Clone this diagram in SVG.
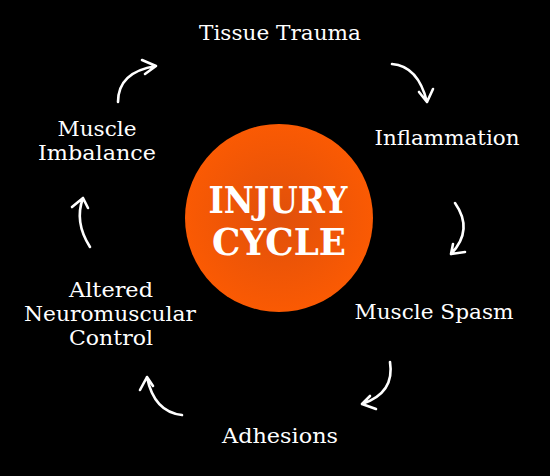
<svg xmlns="http://www.w3.org/2000/svg" width="550" height="476" viewBox="0 0 550 476">
  <defs>
    <radialGradient id="orb" cx="50%" cy="50%" r="50%">
      <stop offset="0" stop-color="#E0500B"/>
      <stop offset="1" stop-color="#FA5A03"/>
    </radialGradient>
    <style>
      .lbl { font-family: "DejaVu Serif", "Liberation Serif", serif; font-size: 20.5px; fill: #FFFFFF; text-anchor: middle; }
      .ttl { font-family: "DejaVu Serif", "Liberation Serif", serif; font-weight: bold; font-size: 37px; fill: #FFFFFF; text-anchor: middle; }
      .arr { fill: none; stroke: #FFFFFF; stroke-width: 2.6; stroke-linecap: round; stroke-linejoin: round; }
    </style>
  </defs>
  <rect x="0" y="0" width="550" height="476" fill="#000000"/>

  <g id="center">
    <circle cx="279" cy="218" r="94" fill="url(#orb)"/>
    <text class="ttl" x="278" y="213" textLength="139" lengthAdjust="spacingAndGlyphs">INJURY</text>
    <text class="ttl" x="279" y="255" textLength="134" lengthAdjust="spacingAndGlyphs">CYCLE</text>
  </g>

  <g id="tissue-trauma"><text class="lbl" x="280" y="40" textLength="162" lengthAdjust="spacingAndGlyphs">Tissue Trauma</text></g>
  <g id="inflammation"><text class="lbl" x="447" y="145" textLength="145" lengthAdjust="spacingAndGlyphs">Inflammation</text></g>
  <g id="muscle-spasm"><text class="lbl" x="434" y="319" textLength="159" lengthAdjust="spacingAndGlyphs">Muscle Spasm</text></g>
  <g id="adhesions"><text class="lbl" x="280" y="443" textLength="116" lengthAdjust="spacingAndGlyphs">Adhesions</text></g>
  <g id="altered-neuromuscular-control">
    <text class="lbl" x="111" y="297" textLength="84" lengthAdjust="spacingAndGlyphs">Altered</text>
    <text class="lbl" x="110" y="321" textLength="172" lengthAdjust="spacingAndGlyphs">Neuromuscular</text>
    <text class="lbl" x="111" y="345" textLength="84" lengthAdjust="spacingAndGlyphs">Control</text>
  </g>
  <g id="muscle-imbalance">
    <text class="lbl" x="97" y="136" textLength="79" lengthAdjust="spacingAndGlyphs">Muscle</text>
    <text class="lbl" x="97" y="160" textLength="118" lengthAdjust="spacingAndGlyphs">Imbalance</text>
  </g>

  <g id="connectors">
    <path class="arr" d="M392,64 Q418,66 427,102 M419,92 L427,102 L433,89"/>
    <path class="arr" d="M455,203 Q474,230 451,254 M453,244 L451,254 L465,252"/>
    <path class="arr" d="M390,362 Q395,393 362,404 M370,396 L362,404 L376,409"/>
    <path class="arr" d="M182,415 Q154,412 147,377 M140,390 L147,377 L153,386"/>
    <path class="arr" d="M90,247 Q74,222 83,198 M72,207 L83,198 L88,208"/>
    <path class="arr" d="M118,102 Q118,72 156,66 M142,60 L156,66 L145,74"/>
  </g>
</svg>
